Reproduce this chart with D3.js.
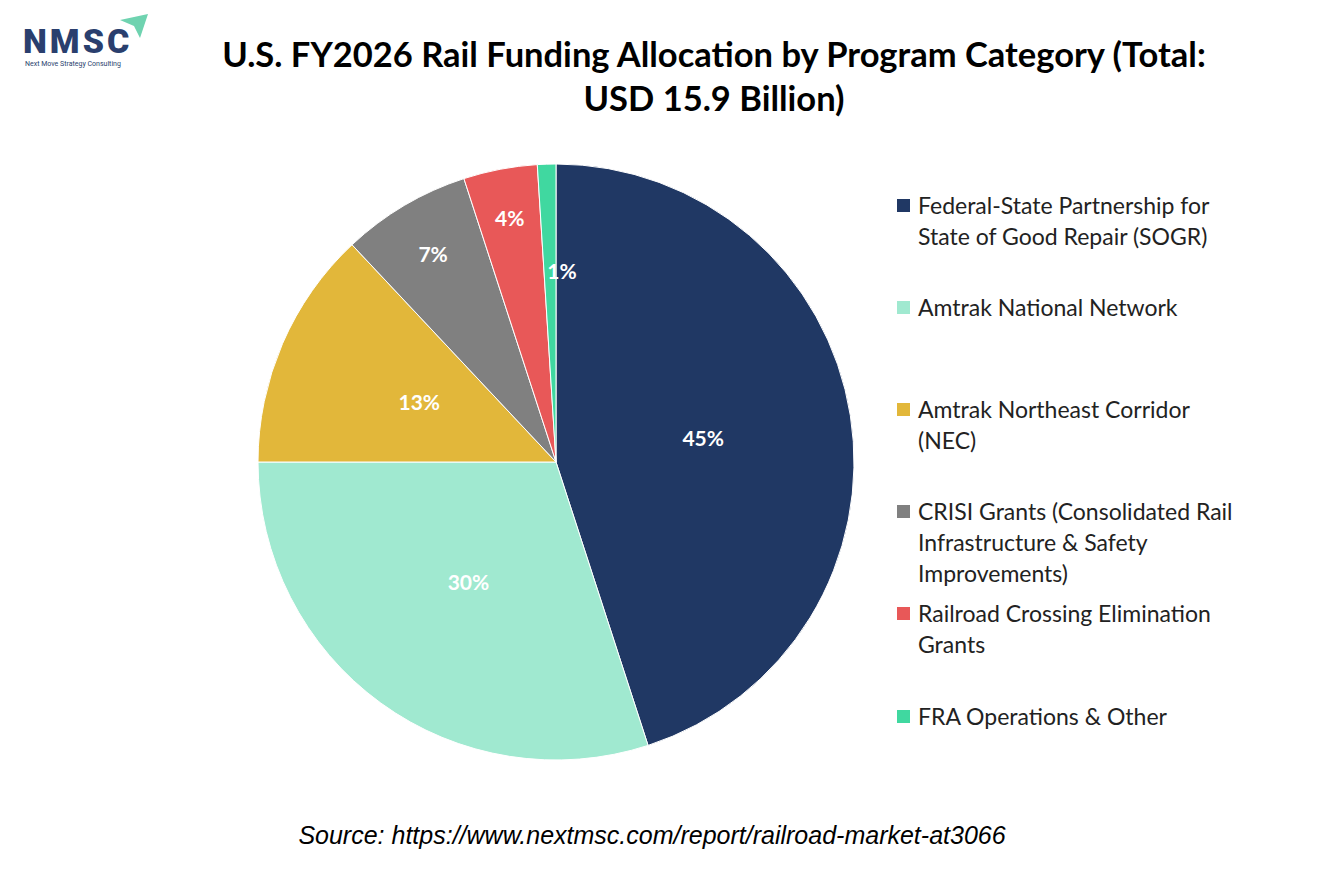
<!DOCTYPE html>
<html><head><meta charset="utf-8">
<script src="https://cdn.jsdelivr.net/npm/d3@7"></script>
<style>body{margin:0;background:#fff}</style>
</head><body>
<svg id="chart" width="1334" height="889"></svg>
<script>
const categories = ["Federal-State Partnership for State of Good Repair (SOGR)", "Amtrak National Network", "Amtrak Northeast Corridor (NEC)", "CRISI Grants (Consolidated Rail Infrastructure & Safety Improvements)", "Railroad Crossing Elimination Grants", "FRA Operations & Other"];
const legendLines = [["Federal-State Partnership for", "State of Good Repair (SOGR)"], ["Amtrak National Network"], ["Amtrak Northeast Corridor", "(NEC)"], ["CRISI Grants (Consolidated Rail", "Infrastructure & Safety", "Improvements)"], ["Railroad Crossing Elimination", "Grants"], ["FRA Operations & Other"]];
const shares = [45, 30, 13, 7, 4, 1];
const colors = ["#203864", "#A0E9D0", "#E2B73A", "#808080", "#E85858", "#40D8A0"];

const svg = d3.select("#chart");

// logo
const logo = svg.append("g");
logo.append("text").attr("x", 23).attr("y", 53).attr("font-family", "Roboto").attr("font-weight", 900)
  .attr("font-size", 34).attr("letter-spacing", 3).attr("fill", "#2a3f6e").text("NMSC");
logo.append("text").attr("x", 25).attr("y", 66).attr("font-family", "Roboto").attr("font-size", 7)
  .attr("fill", "#2a3f6e").text("Next Move Strategy Consulting");
logo.append("path").attr("d", "M120,20 L148,14 L140,38 L134,26 Z").attr("fill", "#6fd3b0");

// title
const title = svg.append("text").attr("text-anchor", "middle").attr("font-family", "Lato")
  .attr("font-weight", "bold").attr("font-size", 34.5).attr("fill", "#000");
title.append("tspan").attr("x", 714).attr("y", 67).text("U.S. FY2026 Rail Funding Allocation by Program Category (Total:");
title.append("tspan").attr("x", 714).attr("y", 111).text("USD 15.9 Billion)");

// pie
const cx = 556, cy = 462, r = 298;
const pie = d3.pie().sort(null).value(d => d);
const arcs = pie(shares);
const arc = d3.arc().innerRadius(0).outerRadius(r);
const g = svg.append("g").attr("transform", `translate(${cx},${cy})`);
g.selectAll("path").data(arcs).enter().append("path")
  .attr("d", arc).attr("fill", (d, i) => colors[i]).attr("stroke", "#fff").attr("stroke-width", 1);
const labelR = [0.5, 0.5, 0.5, 0.81, 0.83, 0.64];
const labelDx = [0, 0, 0, 0, 0, 12];
g.selectAll("text.lbl").data(arcs).enter().append("text").attr("class", "lbl")
  .attr("transform", (d, i) => {
    const a = (d.startAngle + d.endAngle) / 2, rr = r * labelR[i];
    return `translate(${rr * Math.sin(a) + labelDx[i]},${-rr * Math.cos(a)})`;
  })
  .attr("text-anchor", "middle").attr("dy", "0.35em")
  .attr("font-family", "Lato").attr("font-weight", "bold").attr("font-size", 21).attr("fill", "#fff")
  .text(d => d.data + "%");

// legend
const legendY = [206, 308, 410, 512, 614, 717];
const lg = svg.append("g");
categories.forEach((c, i) => {
  lg.append("rect").attr("x", 897).attr("y", legendY[i] - 7).attr("width", 13).attr("height", 13).attr("fill", colors[i]);
  const t = lg.append("text").attr("font-family", "Lato").attr("font-size", 23).attr("fill", "#222");
  legendLines[i].forEach((l, j) => t.append("tspan").attr("x", 918).attr("y", legendY[i] + 8 + j * 31).text(l));
});

// source
svg.append("text").attr("x", 652).attr("y", 844).attr("text-anchor", "middle")
  .attr("font-family", "Liberation Sans").attr("font-style", "italic").attr("font-size", 25)
  .text("Source: https://www.nextmsc.com/report/railroad-market-at3066");
</script>
</body></html>
